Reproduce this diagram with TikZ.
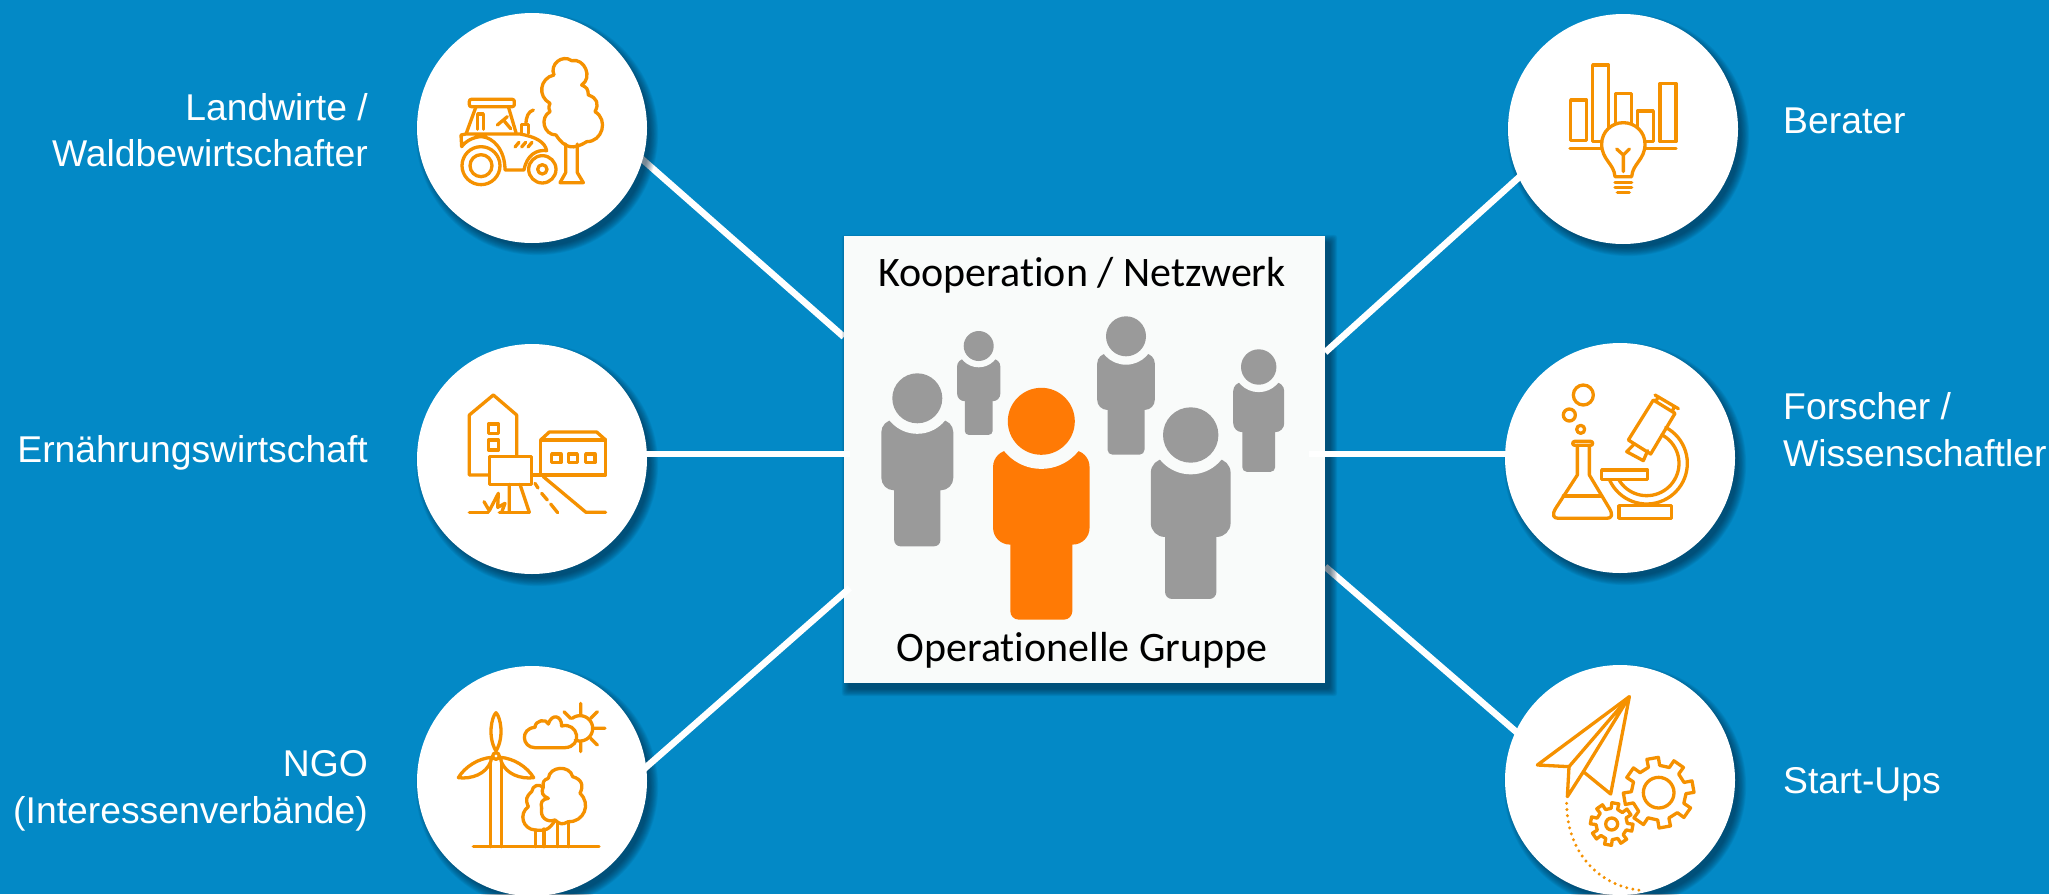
\documentclass[tikz,border=0pt]{standalone}
\usepackage{fontspec}
\setmainfont{Liberation Sans}
\newfontfamily\boxfont[Ligatures=NoCommon]{Carlito}
\usetikzlibrary{calc}
\definecolor{bgblue}{HTML}{0389C6}
\definecolor{iconor}{HTML}{F59100}
\definecolor{persor}{HTML}{FF7A05}
\definecolor{persgr}{HTML}{9A9A9A}
\definecolor{boxbg}{HTML}{F9FBFA}
\definecolor{shad}{HTML}{00233A}
\pgfdeclarelayer{linesA}\pgfdeclarelayer{shadows}\pgfdeclarelayer{boxlayer}\pgfdeclarelayer{linesB}
\pgfsetlayers{linesA,shadows,boxlayer,linesB,main}
\tikzset{
  bub/.style={circle,fill=white,inner sep=0pt,minimum size=230pt},
  conn/.style={draw=white,line width=6.6pt,shorten <=-8pt},
  ic/.style={draw=iconor,line width=3.3pt,line cap=round,line join=round},
  icon/.style 2 args={shift={(#1,#2)},x=.33333pt,y=-.33333pt},
  bmp/.style={bend left=#1,looseness=1.3},bmp/.default=65,
  lab/.style={text=white,inner sep=0pt,font=\fontsize{37.3}{46.5}\selectfont},
  labl/.style={lab,anchor=east,align=right},
  labr/.style={lab,anchor=west,align=left},
  boxt/.style={inner sep=0pt,text=black,font=\boxfont\fontsize{42}{50}\selectfont},
}
\newcommand{\person}[4]{%
  \begin{scope}[shift={(#2,#3)},x=#4pt,y=-#4pt]
    \pgfmathsetmacro{\rra}{.5*#4}\pgfmathsetmacro{\rrb}{.25*#4}
    \fill[#1,rounded corners=\rra pt] (-1.44,.86) rectangle (1.44,3.68);
    \fill[#1,rounded corners=\rrb pt] (-.925,3) rectangle (.925,5.92);
    \fill[boxbg] (0,0) circle (1.42);
    \fill[#1] (0,0) circle (1);
  \end{scope}}
% #1 cx, #2 cy, #3 outer radius, #4 root radius, #5 offset angle
\newcommand{\gearicon}[5]{%
  \draw[ic] ($(#1,#2)+(#5-12:#4)$) \foreach \k in {0,45,...,315}{
    -- ($(#1,#2)+(#5+\k-12:#4)$)
    -- ($(#1,#2)+(#5+\k-9.5:#3)$)
    -- ($(#1,#2)+(#5+\k+9.5:#3)$)
    -- ($(#1,#2)+(#5+\k+12:#4)$)
  } -- cycle;}
\begin{document}
\begin{tikzpicture}[x=1pt,y=-1pt]
\useasboundingbox (0,0) rectangle (2049,894);
\begin{pgfonlayer}{linesA}
  \fill[bgblue] (0,0) rectangle (2049,894);
\end{pgfonlayer}

\begin{pgfonlayer}{shadows}
  \foreach \cx/\cy in {532/128,532/459,532/781,1623/129,1620/458,1620/780}{
    \foreach \g in {9,8,...,0}{
      \fill[shad,opacity=.07] (\cx+5,\cy+6) circle ({113+\g*.9});
    }
  }
  \foreach \g in {9,8,...,0}{
    \fill[shad,opacity=.07,rounded corners=3pt] (844+5-\g*.8,236+6-\g*.8) rectangle (1325+5+\g*.8,683+6+\g*.8);
  }
\end{pgfonlayer}

\begin{pgfonlayer}{boxlayer}
  \node[fill=boxbg,minimum width=481pt,minimum height=447pt,inner sep=0pt] (box) at (1084.5,459.5) {};
\end{pgfonlayer}

\node[bub] (c1) at (532,128) {};
\node[bub] (c2) at (532,459) {};
\node[bub] (c3) at (532,781) {};
\node[bub] (c4) at (1623,129) {};
\node[bub] (c5) at (1620,458) {};
\node[bub] (c6) at (1620,780) {};

\begin{pgfonlayer}{linesA}
  \draw[conn] (c1.-16) -- (box.153);
  \draw[conn] (c6.155) -- (box.-24);
\end{pgfonlayer}
\begin{pgfonlayer}{linesB}
  \draw[conn] (c4.205) -- (box.24.5);
  \draw[conn] (c2.east |- 0,454) -- ($(box.west)+(6,-5.5)$);
  \draw[conn] (c3.7) -- ($(box.209)+(6,-5)$);
  \draw[conn] (c5.west |- 0,454) -- ($(box.east)+(-16,-5.5)$);
\end{pgfonlayer}

\node[boxt] (ktitle) at (1082,275) {Kooperation / Netzwerk};
\node[boxt] (otitle) at (1082,650) {Operationelle Gruppe};
\person{persgr}{917.3}{398.3}{25}
\person{persgr}{978.7}{346}{15}
\person{persgr}{1126}{336.3}{20}
\person{persgr}{1190.7}{435}{27.7}
\person{persgr}{1258.7}{367}{17.7}
\person{persor}{1041.3}{421.3}{33.5}

\node[labl] (l1) at (368,130) {Landwirte /\\Waldbewirtschafter};
\node[labl] (l2) at (368,452.5) {Ernährungswirtschaft};
\node[labl] (l3) at (368,791) {NGO\\(Interessenverbände)};
\node[labr] (l4) at (1783,121) {Berater};
\node[labr] (l5) at (1783,429.5) {Forscher /\\Wissenschaftler};
\node[labr] (l6) at (1783,784.5) {Start-Ups};

\begin{scope}[icon={400}{0}]
  \draw[ic] (462,225) to[bmp=75] (515,182) to[bmp=80] (545,255) to[bmp=30] (565,285) to[bmp=50] (585,335) to[bmp=75] (560,425) to[bmp=45] (468,405) to[bmp=75] (450,335) to[bmp=20] (450,310) to[bmp=70] (462,225);
  \draw[ic] (497,432) -- (497,518) -- (480,548) -- (550,548) -- (532,518) -- (532,432);
  \draw[ic,rounded corners=2pt] (208,298) rectangle (343,320);
  \draw[ic] (228,320) -- (198,402) -- (360,402) .. controls (405,410) and (435,425) .. (440,452) .. controls (410,448) and (380,465) .. (372,510) -- (315,510) .. controls (315,450) and (280,412) .. (245,410) .. controls (220,410) and (195,425) .. (185,440) -- (183,405) -- (198,402);
  \draw[ic] (325,320) -- (348,398);
  \draw[ic] (233,388) -- (233,342) -- (250,342) -- (250,388);
  \draw[ic] (292,375) -- (322,350) (310,360) -- (332,386);
  \draw[ic] (243,497) circle (57);
  \draw[ic] (243,497) circle (33);
  \draw[ic] (427,508) circle (41);
  \draw[ic] (427,508) circle (14);
  \draw[ic] (365,400) -- (365,373) -- (385,373) -- (385,400);
  \draw[ic] (378,372) .. controls (378,350) and (385,335) .. (400,330);
  \draw[ic] (345,441) -- (357,427) (365,441) -- (377,427) (384,441) -- (396,427);
\end{scope}

\begin{scope}[icon={400}{330}]
  \draw[ic] (268,435) -- (208,435) -- (208,255) -- (280,195) -- (350,255) -- (350,378);
  \draw[ic] (265,282) rectangle (296,310) (265,330) rectangle (296,360);
  \draw[ic] (268,380) rectangle (395,463);
  \draw[ic] (395,435) -- (617,435) -- (617,330) -- (422,330) -- (422,435);
  \draw[ic] (422,330) -- (448,306) -- (590,306) -- (617,330);
  \draw[ic] (455,372) rectangle (483,398) (505,372) rectangle (532,398) (557,372) rectangle (585,398);
  \draw[ic] (328,463) -- (328,547) (360,463) -- (388,547);
  \draw[ic] (208,547) -- (265,547) (298,547) -- (388,547);
  \draw[ic] (252,515) -- (268,542) -- (295,490) -- (293,532) -- (315,520) -- (305,547);
  \draw[ic] (430,440) -- (558,547) -- (617,547);
  \draw[ic] (405,460) -- (414,474) (425,490) -- (442,510) (452,522) -- (473,548);
\end{scope}

\begin{scope}[icon={400}{650}]
  \draw[ic] (220,590) -- (597,590);
  \draw[ic] (288,318) circle (10);
  \draw[ic] (272,338) -- (272,590) (305,338) -- (305,590);
  \draw[ic] (288,303) .. controls (262,260) and (275,200) .. (288,188) .. controls (301,200) and (314,260) .. (288,303);
  \draw[ic] (275,322) .. controls (235,325) and (195,350) .. (175,383) .. controls (215,388) and (258,372) .. (272,335) -- cycle;
  \draw[ic] (301,322) .. controls (341,325) and (381,350) .. (401,383) .. controls (361,388) and (318,372) .. (304,335) -- cycle;
  \draw[ic] (495,293) -- (405,293) .. controls (365,293) and (360,235) .. (405,232) .. controls (405,210) and (440,205) .. (445,222) .. controls (455,190) and (485,195) .. (485,228) .. controls (535,215) and (550,290) .. (495,293) -- cycle;
  \draw[ic] plot[domain=-128:112,samples=30] ({540+38*cos(\x)},{235+38*sin(\x)});
  \draw[ic] (542,160) -- (542,195) (592,185) -- (572,205) (580,235) -- (615,235) (572,265) -- (592,285) (542,275) -- (542,305) (492,185) -- (512,205);
  \draw[ic] (445,385) to[bmp=80] (518,380) to[bmp=50] (540,430) to[bmp=70] (505,515) to[bmp=35] (465,510) to[bmp=60] (425,475) to[bmp=50] (445,445) to[bmp=45] (430,410) to[bmp=40] (445,385);
  \draw[ic] (430,412) to[bmp=-60] (395,425) to[bmp=-35] (385,470) to[bmp=-70] (405,540) to[bmp=-30] (465,512);
  \draw[ic] (473,520) -- (473,590) (505,517) -- (505,590) (407,540) -- (407,590) (432,537) -- (432,590);
\end{scope}

\begin{scope}[icon={1490}{0}]
  \draw[ic] (242,300) rectangle (290,422);
  \draw[ic] (333,425) -- (308,425) -- (308,195) -- (356,195) -- (356,385);
  \draw[ic] (376,368) -- (376,280) -- (424,280) -- (424,370);
  \draw[ic] (442,385) -- (442,333) -- (490,333) -- (490,425) -- (467,425);
  \draw[ic] (510,250) rectangle (558,425);
  \draw[ic] (240,445) -- (333,445) (468,445) -- (558,445);
  \draw[ic] (375,530) .. controls (372,490) and (335,480) .. (335,432) .. controls (335,395) and (365,368) .. (400,368) .. controls (435,368) and (465,395) .. (465,432) .. controls (465,480) and (428,490) .. (425,530) -- cycle;
  \draw[ic] (400,515) -- (400,465) (380,447) -- (400,465) -- (418,447);
  \draw[ic] (375,548) -- (425,548) (375,563) -- (425,563) (382,578) -- (418,578);
\end{scope}

\begin{scope}[icon={1490}{330}]
  \draw[ic] (280,195) circle (30) (238,255) circle (18) (272,298) circle (12);
  \draw[ic,rounded corners=2pt] (248,334) rectangle (308,346);
  \draw[ic] (262,346) -- (262,435) -- (197,535) .. controls (185,555) and (190,565) .. (205,565) -- (350,565) .. controls (365,565) and (370,555) .. (358,535) -- (298,435) -- (298,346);
  \draw[ic] (220,498) -- (335,498);
  \draw[ic] (387,527) rectangle (545,565);
  \draw[ic] (335,420) rectangle (473,448);
  \draw[ic] plot[domain=-62:155,samples=40] ({470+122*cos(\x)},{400+122*sin(\x)});
  \draw[ic] plot[domain=-62:150,samples=40] ({470+97*cos(\x)},{400+97*sin(\x)});
  \draw[ic] (490,210) -- (555,250) -- (482,372) -- (415,330) -- cycle;
  \draw[ic] (495,195) -- (565,236) (505,200) -- (497,215) (553,230) -- (547,243);
  \draw[ic] (433,342) -- (410,365) -- (460,392) -- (473,362);
\end{scope}

\begin{scope}[icon={1490}{650}]
  \draw[ic] (418,140) -- (142,345) -- (237,350) -- (232,440) -- (280,365) -- (362,432) -- cycle;
  \draw[ic] (237,350) -- (418,140) (280,365) -- (418,140);
  \draw[iconor,line width=3.3pt,line cap=round,dash pattern=on 0pt off 6.2pt] (230,460) .. controls (230,600) and (320,710) .. (460,722);
  \gearicon{506}{428}{106}{82}{-10}
  \draw[ic] (506,428) circle (46);
  \gearicon{365}{522}{64}{47}{10}
  \draw[ic] (365,522) circle (18);
\end{scope}
\end{tikzpicture}
\end{document}
